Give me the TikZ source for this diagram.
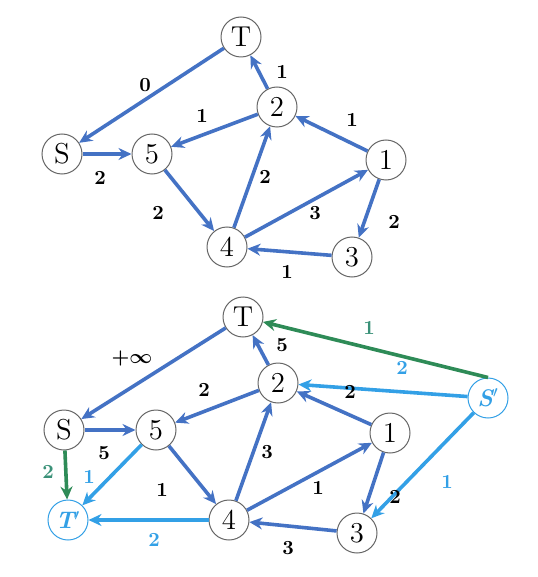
\documentclass[tikz,border=0pt]{standalone}
\usepackage{amsmath}
\usetikzlibrary{arrows.meta}
\definecolor{eblue}{HTML}{4472C4}
\definecolor{lblue}{HTML}{33A0E6}
\definecolor{egreen}{HTML}{2E8B57}
\definecolor{lgreen}{HTML}{3A9178}
\begin{document}
\begin{tikzpicture}[x=0.5pt,y=-0.5pt,
  vtx/.style={circle,draw=black!60,line width=0.5pt,fill=white,minimum size=20pt,inner sep=0pt,font=\Large},
  pvtx/.style={circle,draw=lblue,line width=0.5pt,fill=white,minimum size=20pt,inner sep=0pt,font=\large\bfseries\itshape,text=lblue},
  edge/.style={draw=eblue,line width=1.8pt,-{Stealth[length=6.5pt,width=6pt]}},
  ledge/.style={edge,draw=lblue},
  gedge/.style={edge,draw=egreen},
  lab/.style={font=\normalsize\bfseries,inner sep=1pt},
  llab/.style={lab,text=lblue},
  glab/.style={lab,text=lgreen}]
\useasboundingbox (0,0) rectangle (537,577);
% top graph
\node[vtx] (T) at (241,37) {T};
\node[vtx] (n2) at (277,107) {2};
\node[vtx] (S) at (62,154) {S};
\node[vtx] (n5) at (152,154) {5};
\node[vtx] (n1) at (386,160) {1};
\node[vtx] (n4) at (227,247) {4};
\node[vtx] (n3) at (352,257) {3};
\draw[edge] (T) -- (S);
\draw[edge] (n2) -- (T);
\draw[edge] (n2) -- (n5);
\draw[edge] (n1) -- (n2);
\draw[edge] (S) -- (n5);
\draw[edge] (n5) -- (n4);
\draw[edge] (n4) -- (n2);
\draw[edge] (n4) -- (n1);
\draw[edge] (n1) -- (n3);
\draw[edge] (n3) -- (n4);
\node[lab] (l1) at (145,85) {0};
\node[lab] (l2) at (282,72) {1};
\node[lab] (l3) at (202,116) {1};
\node[lab] (l4) at (352,120) {1};
\node[lab] (l5) at (100,178) {2};
\node[lab] (l6) at (265,177) {2};
\node[lab] (l7) at (158,213) {2};
\node[lab] (l8) at (315,213) {3};
\node[lab] (l9) at (394,222) {2};
\node[lab] (l10) at (287,272) {1};
% bottom graph
\node[vtx] (bT) at (243,317) {T};
\node[vtx] (b2) at (278,383) {2};
\node[vtx] (bS) at (64,430) {S};
\node[vtx] (b5) at (156,430) {5};
\node[vtx] (b1) at (390,433) {1};
\node[vtx] (b4) at (229,520) {4};
\node[vtx] (b3) at (357,533) {3};
\node[pvtx] (bSp) at (488,398) {S$'$};
\node[pvtx] (bTp) at (68,520) {T$'$};
\draw[edge] (bT) -- (bS);
\draw[edge] (b2) -- (bT);
\draw[edge] (b2) -- (b5);
\draw[edge] (b1) -- (b2);
\draw[edge] (bS) -- (b5);
\draw[edge] (b5) -- (b4);
\draw[edge] (b4) -- (b2);
\draw[edge] (b4) -- (b1);
\draw[edge] (b1) -- (b3);
\draw[edge] (b3) -- (b4);
\draw[gedge] (bSp.north) -- (bT);
\draw[ledge] (bSp) -- (b2);
\draw[ledge] (bSp) -- (b3);
\draw[gedge] (bS) -- (bTp);
\draw[ledge] (b5) -- (bTp);
\draw[ledge] (b4) -- (bTp);
\node[lab] (m1) at (132,358) {+$\boldsymbol{\infty}$};
\node[lab] (m2) at (204,390) {2};
\node[lab] (m3) at (104,453) {5};
\node[glab] (m4) at (48,472) {2};
\node[llab] (m5) at (89,477) {1};
\node[lab] (m6) at (162,490) {1};
\node[llab] (m7) at (154,540) {2};
\node[lab] (m8) at (267,452) {3};
\node[lab] (m9) at (282,345) {5};
\node[glab] (m10) at (369,328) {1};
\node[llab] (m11) at (402,368) {2};
\node[lab] (m12) at (350,392) {2};
\node[lab] (m13) at (318,488) {1};
\node[lab] (m14) at (395,497) {2};
\node[llab] (m15) at (447,482) {1};
\node[lab] (m16) at (288,548) {3};
\end{tikzpicture}
\end{document}
